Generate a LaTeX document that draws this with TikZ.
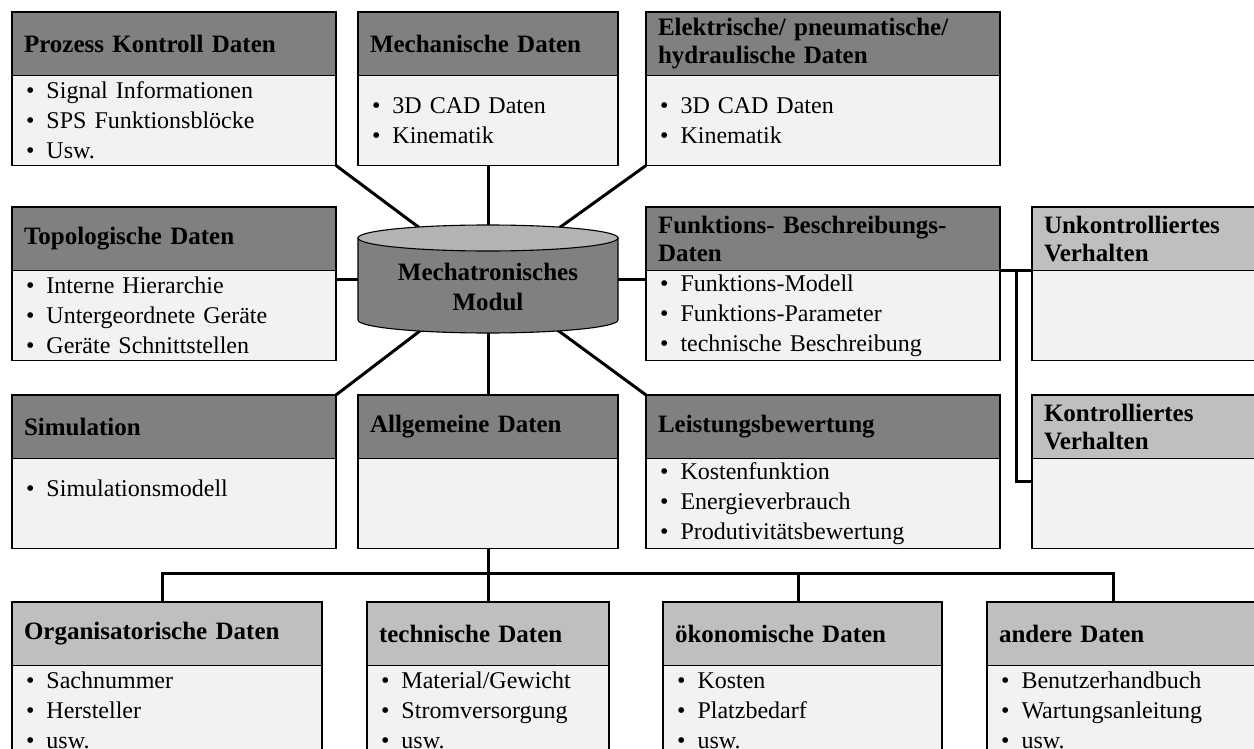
\documentclass[tikz,border=0pt]{standalone}
\usepackage{fontspec}
\setmainfont{Liberation Serif}
\usetikzlibrary{calc}

\definecolor{hdark}{HTML}{808080}
\definecolor{hlight}{HTML}{BFBFBF}
\definecolor{bodyfill}{HTML}{F2F2F2}
\definecolor{cyltop}{HTML}{B3B3B3}

\newcommand{\itm}[1]{\makebox[20.5pt][l]{\textbullet}#1}
\newcommand{\hdrfont}{\fontsize{25}{28}\selectfont\bfseries}
\newcommand{\bodyfont}{\fontsize{24}{30}\selectfont}

% header node (name h) with its body node (name b) directly below
% #1 name, #2 x, #3 y, #4 width, #5 header style, #6 header text, #7 body text
\newcommand{\databox}[7]{%
  \pgfmathsetmacro{\hdw}{#4-24}%
  \pgfmathsetmacro{\bdw}{#4-28}%
  \node[#5, text width=\hdw pt] (#1h) at (#2,#3) {#6};
  \node[bd, text width=\bdw pt] (#1b) at (#1h.south west) {#7};
}

\begin{document}
\begin{tikzpicture}[x=1pt, y=-1pt,
  box/.style={draw, line width=1.1pt, anchor=north west, align=left,
              inner ysep=0pt, outer sep=0pt},
  hd/.style={box, fill=hdark, inner xsep=12pt, font=\hdrfont, minimum height=63.5pt},
  hdl/.style={hd, fill=hlight},
  bd/.style={box, fill=bodyfill, inner xsep=14pt, font=\bodyfont, minimum height=90pt},
  link/.style={line width=3pt}]

\useasboundingbox (0,0) rectangle (1254,749);
\clip (0,0) rectangle (1254,749);

% top row
\databox{P}{12}{12}{324}{hd}{Prozess Kontroll Daten}
  {\itm{Signal Informationen}\\\itm{SPS Funktionsblöcke}\\\itm{Usw.}}
\databox{M}{358}{12}{260}{hd}{Mechanische Daten}
  {\itm{3D CAD Daten}\\\itm{Kinematik}}
\databox{E}{646}{12}{354}{hd}{Elektrische/ pneumatische/\\hydraulische Daten}
  {\itm{3D CAD Daten}\\\itm{Kinematik}}

% middle row
\databox{T}{12}{207}{324}{hd}{Topologische Daten}
  {\itm{Interne Hierarchie}\\\itm{Untergeordnete Geräte}\\\itm{Geräte Schnittstellen}}
\databox{F}{646}{207}{354}{hd}{Funktions- Beschreibungs-\\Daten}
  {\itm{Funktions-Modell}\\\itm{Funktions-Parameter}\\\itm{technische Beschreibung}}
\databox{U}{1032}{207}{240}{hdl}{Unkontrolliertes\\Verhalten}{}

% lower middle row
\databox{S}{12}{395}{324}{hd}{Simulation}
  {\itm{Simulationsmodell}\\\mbox{}}
\databox{A}{358}{395}{260}{hd}{Allgemeine Daten}{}
\databox{L}{646}{395}{354}{hd}{Leistungsbewertung}
  {\itm{Kostenfunktion}\\\itm{Energieverbrauch}\\\itm{Produtivitätsbewertung}}
\databox{K}{1032}{395}{240}{hdl}{Kontrolliertes\\Verhalten}{}

% bottom row
\databox{O}{12}{602}{310}{hdl}{Organisatorische Daten}
  {\itm{Sachnummer}\\\itm{Hersteller}\\\itm{usw.}}
\databox{Te}{367}{602}{242}{hdl}{technische Daten}
  {\itm{Material/Gewicht}\\\itm{Stromversorgung}\\\itm{usw.}}
\databox{Oe}{663}{602}{279}{hdl}{ökonomische Daten}
  {\itm{Kosten}\\\itm{Platzbedarf}\\\itm{usw.}}
\databox{An}{987}{602}{275}{hdl}{andere Daten}
  {\itm{Benutzerhandbuch}\\\itm{Wartungsanleitung}\\\itm{usw.}}

% central module (outline only, graphic drawn after the links)
\node[minimum width=260pt, minimum height=108pt, inner sep=0pt, outer sep=0pt]
  (cyl) at (488,279) {};

% links to the central module
\draw[link] (Pb.south east) -- (cyl.center);
\draw[link] (Mb.south) -- (cyl.center);
\draw[link] (Eb.south west) -- (cyl.center);
\draw[link] (Tb.east |- cyl.center) -- (Fb.west |- cyl.center);
\draw[link] (Sh.north east) -- (cyl.center);
\draw[link] (Ah.north) -- (cyl.center);
\draw[link] (Lh.north west) -- (cyl.center);

% behaviour branch
\draw[link] (Fh.south east) -- (Uh.south west);
\coordinate (fork) at ($(Fh.south east)!0.5!(Uh.south west)$);
\coordinate (kin) at ($(Kb.north west)+(0,23)$);
\draw[link] (fork) |- (kin);

% general data bus
\coordinate (b1) at (162,573);
\coordinate (b3) at (798,573);
\coordinate (b4) at (1113,573);
\draw[link] (b1 |- Oh.north) -- (b1) -- (b4) -- (b4 |- Anh.north);
\draw[link] (Ab.south) -- (Teh.north);
\draw[link] (b3) -- (b3 |- Oeh.north);

% cylinder
\path[fill=hdark, draw, line width=1.1pt]
  (358,238) -- (358,320)
  arc[start angle=180, end angle=360, x radius=130pt, y radius=13pt]
  -- (618,238) -- cycle;
\draw[fill=cyltop, line width=1.1pt] (488,238) ellipse [x radius=130pt, y radius=13pt];
\node[font=\fontsize{25}{30}\selectfont\bfseries, align=center] (cyltxt) at (488,287)
  {Mechatronisches\\Modul};

\end{tikzpicture}
\end{document}
